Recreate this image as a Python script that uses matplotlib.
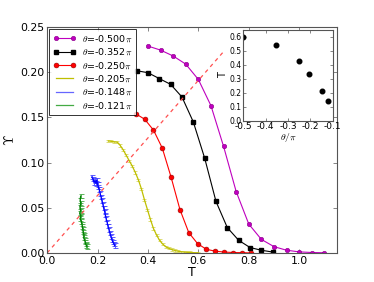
import matplotlib
matplotlib.use("Agg")
import matplotlib.pyplot as plt
import numpy as np
from matplotlib.lines import Line2D

plt.rcParams['font.family'] = ['DejaVu Sans']
plt.rcParams['mathtext.fontset'] = 'cm'

labels = [r'$\theta$=-0.500$\pi$', r'$\theta$=-0.352$\pi$', r'$\theta$=-0.250$\pi$',
          r'$\theta$=-0.205$\pi$', r'$\theta$=-0.148$\pi$', r'$\theta$=-0.121$\pi$']

# theta = -0.500 pi
T_m = [0.40, 0.45, 0.50, 0.55, 0.60, 0.65, 0.70, 0.75, 0.80, 0.85, 0.90, 0.95, 1.00, 1.05, 1.10]
U_m = [0.229, 0.2245, 0.218, 0.209, 0.192, 0.163, 0.118, 0.068, 0.032, 0.015, 0.007, 0.003, 0.0012, 0.0005, 0.0002]
# theta = -0.352 pi
T_k = [0.355, 0.40, 0.445, 0.49, 0.535, 0.58, 0.625, 0.67, 0.715, 0.76, 0.805, 0.85, 0.895]
U_k = [0.2017, 0.1995, 0.193, 0.1866, 0.1726, 0.145, 0.105, 0.057, 0.028, 0.014, 0.006, 0.003, 0.001]
# theta = -0.250 pi
T_r = [0.352, 0.387, 0.422, 0.457, 0.492, 0.527, 0.562, 0.597, 0.632, 0.667, 0.702, 0.737, 0.772, 0.807]
U_r = [0.154, 0.148, 0.136, 0.116, 0.0837, 0.048, 0.0225, 0.0103, 0.004, 0.002, 0.001, 0.0005, 0.0003, 0.0001]
# theta = -0.205 pi
T_y = [0.243, 0.255, 0.267, 0.279, 0.290, 0.302, 0.314, 0.326, 0.338, 0.350, 0.362, 0.374, 0.386,
       0.398, 0.410, 0.422, 0.434, 0.446, 0.458, 0.470, 0.482, 0.494, 0.506, 0.518, 0.530, 0.542,
       0.554, 0.566, 0.578, 0.590, 0.600]
U_y = [0.124, 0.1235, 0.123, 0.1225, 0.119, 0.114, 0.108, 0.102, 0.096, 0.089, 0.081, 0.071, 0.059,
       0.048, 0.037, 0.027, 0.020, 0.014, 0.010, 0.007, 0.0052, 0.0038, 0.0028, 0.002, 0.0014, 0.001,
       0.0007, 0.0005, 0.0003, 0.0002, 0.0001]
# theta = -0.148 pi
T_b = [0.177, 0.182, 0.186, 0.190, 0.194, 0.197, 0.200, 0.203, 0.207, 0.210, 0.214, 0.217, 0.221,
       0.224, 0.228, 0.231, 0.234, 0.238, 0.241, 0.245, 0.249, 0.253, 0.257, 0.261, 0.265, 0.268]
U_b = [0.084, 0.082, 0.078, 0.080, 0.077, 0.081, 0.076, 0.073, 0.070, 0.066, 0.062, 0.058, 0.054,
       0.050, 0.046, 0.042, 0.038, 0.034, 0.030, 0.026, 0.022, 0.018, 0.015, 0.012, 0.010, 0.008]
# theta = -0.121 pi
T_g = [0.133, 0.131, 0.134, 0.130, 0.133, 0.129, 0.134, 0.131, 0.136, 0.138, 0.140, 0.142, 0.143,
       0.146, 0.145, 0.149, 0.151, 0.153, 0.156, 0.158]
U_g = [0.063, 0.058, 0.055, 0.051, 0.047, 0.044, 0.041, 0.038, 0.035, 0.032, 0.029, 0.026, 0.023,
       0.020, 0.017, 0.014, 0.012, 0.010, 0.008, 0.007]

# dashed reference line Upsilon = T/pi
T_line = [0.0, 0.70]

# inset data
theta_in = [-0.5, -0.352, -0.25, -0.205, -0.148, -0.121]
Tc_in = [0.60, 0.54, 0.43, 0.335, 0.215, 0.14]

fig = plt.figure(figsize=(3.74, 2.82), dpi=100)
ax = fig.add_axes([0.126, 0.103, 0.775, 0.801])

spc = '#555555'
ax.plot(T_m, U_m, '-o', color='m', lw=0.8, ms=3.2, mec='#880088', mew=0.4, label=labels[0])
ax.plot(T_k, U_k, '-s', color='k', lw=0.8, ms=3.2, label=labels[1])
ax.plot(T_r, U_r, '-o', color='r', lw=0.8, ms=3.5, mec='#990000', mew=0.4, label=labels[2])
ax.errorbar(T_y, U_y, yerr=0.0012, color='y', ecolor='#d8d860', lw=0.9, elinewidth=0.6, capsize=1.5, capthick=0.6, label=labels[3])
ax.errorbar(T_b, U_b, yerr=0.0025, color='b', ecolor='#4444ff', lw=0.9, elinewidth=0.6, capsize=1.8, capthick=0.6, label=labels[4])
ax.errorbar(T_g, U_g, yerr=0.0025, color='g', ecolor='#44aa44', lw=0.9, elinewidth=0.6, capsize=1.8, capthick=0.6, label=labels[5])
ax.plot(T_line, np.array(T_line) / np.pi, '--', color='#ff5050', lw=0.9, dashes=(3, 3))

ax.set_xlim(0, 1.15)
ax.set_ylim(0, 0.25)
ax.set_xticks([0.0, 0.2, 0.4, 0.6, 0.8, 1.0])
ax.set_xticklabels(['0.0', '0.2', '0.4', '0.6', '0.8', '1.0'])
ax.set_yticks([0.0, 0.05, 0.10, 0.15, 0.20, 0.25])
ax.set_yticklabels(['0.00', '0.05', '0.10', '0.15', '0.20', '0.25'])
ax.tick_params(direction='in', top=True, right=True, labelsize=7.8, length=3, width=0.5, color=spc, pad=2)
for s in ax.spines.values():
    s.set_color(spc)
    s.set_linewidth(0.8)
ax.set_xlabel('T', fontsize=9, labelpad=0)
ax.set_ylabel(r'$\Upsilon$', fontsize=10, labelpad=2)

handles, labs = ax.get_legend_handles_labels()
h2 = [handles[0], handles[1], handles[2],
      Line2D([], [], color='y', lw=0.9), Line2D([], [], color='#6666ff', lw=0.9), Line2D([], [], color='#44aa44', lw=0.9)]
leg = ax.legend(h2, labs, loc='upper left', fontsize=6.8, numpoints=2, frameon=True, fancybox=False,
                borderaxespad=0.25, handlelength=2.4, labelspacing=0.3, borderpad=0.4, handletextpad=0.6)
leg.get_frame().set_edgecolor('k')
leg.get_frame().set_linewidth(0.7)

axi = fig.add_axes([0.65, 0.571, 0.24, 0.323])
axi.plot(theta_in, Tc_in, 'o', color='k', ms=3.3)
axi.set_xlim(-0.5, -0.1)
axi.set_ylim(0, 0.65)
axi.set_xticks([-0.5, -0.4, -0.3, -0.2, -0.1])
axi.set_xticklabels(['-0.5', '-0.4', '-0.3', '-0.2', '-0.1'])
axi.set_yticks([0.0, 0.1, 0.2, 0.3, 0.4, 0.5, 0.6])
axi.set_yticklabels(['0.0', '0.1', '0.2', '0.3', '0.4', '0.5', '0.6'])
axi.tick_params(axis='x', labelsize=6.5, pad=1)
axi.tick_params(axis='y', labelsize=5.5, pad=1)
axi.tick_params(direction='in', top=True, right=True, length=2, width=0.5, color=spc)
for s in axi.spines.values():
    s.set_color(spc)
    s.set_linewidth(0.8)
axi.set_xlabel(r'$\theta/\pi$', fontsize=7, labelpad=0)
axi.set_ylabel('T', fontsize=7, labelpad=1)

fig.savefig('out.png', dpi=100)
